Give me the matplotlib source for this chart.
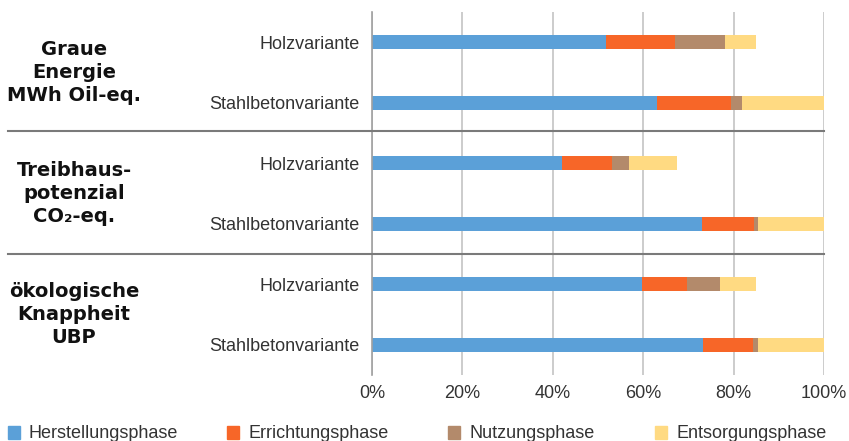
import matplotlib.pyplot as plt
from matplotlib.patches import Rectangle
from matplotlib.lines import Line2D
from matplotlib.ticker import FuncFormatter

plt.rcParams['font.family'] = ['Liberation Sans', 'DejaVu Sans']

# data (share of total, %)
variants = ['Holzvariante', 'Stahlbetonvariante'] * 3
groups = ['Graue\nEnergie\nMWh Oil-eq.', 'Treibhaus-\npotenzial\nCO₂-eq.', 'ökologische\nKnappheit\nUBP']
phases = ['Herstellungsphase', 'Errichtungsphase', 'Nutzungsphase', 'Entsorgungsphase']
herstellung = [51.8, 63.0, 42.0, 73.1, 59.7, 73.3]
errichtung = [15.3, 16.5, 11.2, 11.4, 10.1, 11.1]
nutzung = [11.0, 2.4, 3.7, 1.0, 7.1, 1.1]
entsorgung = [6.9, 18.1, 10.6, 14.5, 8.1, 14.5]
colors = ['#5BA0D8', '#F76628', '#B38A6B', '#FFDA82']

W, H = 849, 441
fig = plt.figure(figsize=(W / 100, H / 100), dpi=100)
ax = fig.add_axes([372 / W, 1 - 375 / H, 452 / W, 363 / H])

ypos = list(range(len(variants)))
left = [0] * len(variants)
for vals, c in zip([herstellung, errichtung, nutzung, entsorgung], colors):
    ax.barh(ypos, vals, left=left, height=0.23, color=c, zorder=3)
    left = [l + v for l, v in zip(left, vals)]

ax.set_xlim(0, 100)
ax.set_ylim(5.5, -0.5)
ax.set_xticks([0, 20, 40, 60, 80, 100])
ax.xaxis.set_major_formatter(FuncFormatter(lambda v, p: f'{v:.0f}%'))
ax.grid(axis='x', color='#c4c4c4', linewidth=1.2, zorder=0)
ax.tick_params(axis='x', length=0, labelsize=13, labelcolor='#333333', pad=7)
ax.tick_params(axis='y', length=0, labelsize=13, labelcolor='#333333', pad=9)
ax.set_yticks(ypos)
ax.set_yticklabels(variants)
for s in ['top', 'right', 'bottom']:
    ax.spines[s].set_visible(False)
ax.spines['left'].set_color('#a0a0a0')
ax.spines['left'].set_linewidth(1.2)
ax.spines['left'].set_zorder(4)

# group separators
trans = ax.get_yaxis_transform()
for yy in [1.47, 3.5]:
    ax.add_line(Line2D([-(372 - 8) / 452, 1.0], [yy, yy], transform=trans,
                       color='#7a7a7a', linewidth=1.5, clip_on=False, zorder=5))

# group headings
for i, g in enumerate(groups):
    ax.text(-(372 - 74) / 452, 2 * i + 0.5, g, transform=trans, ha='center', va='center',
            fontsize=14, fontweight='bold', color='#111111', linespacing=1.25,
            family=['DejaVu Sans'])

# legend
leg_x = [8, 227, 448, 655]
for xx, lab, c in zip(leg_x, phases, colors):
    fig.patches.append(Rectangle((xx / W, 1 - 439 / H), 12 / W, 13 / H,
                                 transform=fig.transFigure, color=c))
    fig.text((xx + 21) / W, 1 - 433 / H, lab, fontsize=13, color='#333333', va='center')

fig.savefig('out.png', dpi=100)
